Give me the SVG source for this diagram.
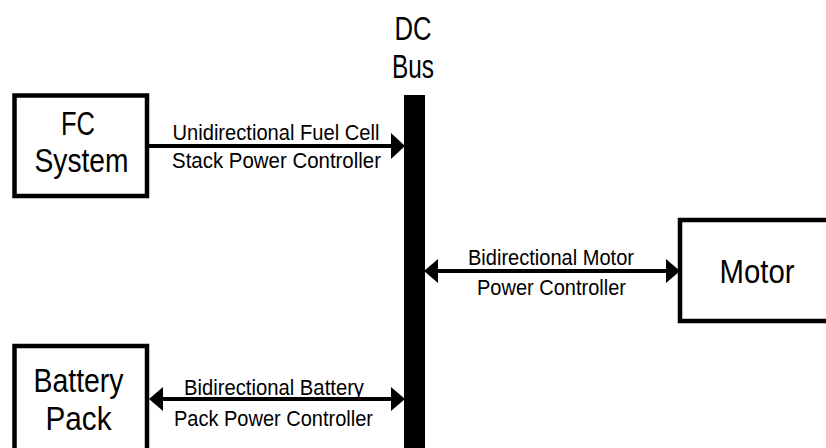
<svg xmlns="http://www.w3.org/2000/svg" width="826" height="448" viewBox="0 0 826 448">
<style>
.box{fill:#fff;stroke:#000;stroke-width:4.5}
.big{font-family:"Liberation Sans",Arial,sans-serif;font-size:34px;text-anchor:middle;fill:#000}
.lbl{font-family:"Liberation Sans",Arial,sans-serif;font-size:22px;text-anchor:middle;fill:#000}
.ln{stroke:#000;stroke-width:4.2;fill:none}
.hd{fill:#000}
</style>
<rect width="826" height="448" fill="#fff"/>
<g id="connectors">
<line class="ln" x1="149" y1="146" x2="393" y2="146"/>
<polygon class="hd" points="405,146 391,133 391,159"/>
<line class="ln" x1="436" y1="271" x2="668" y2="271"/>
<polygon class="hd" points="424,271 438,259 438,283"/>
<polygon class="hd" points="680,271 666,259 666,283"/>
<line class="ln" x1="162" y1="399" x2="392" y2="399"/>
<polygon class="hd" points="149,399 163,387 163,411"/>
<polygon class="hd" points="405,399 391,387 391,411"/>
<text class="lbl" x="276" y="140" textLength="207" lengthAdjust="spacingAndGlyphs">Unidirectional Fuel Cell</text>
<text class="lbl" x="276.5" y="168" textLength="209" lengthAdjust="spacingAndGlyphs">Stack Power Controller</text>
<text class="lbl" x="551" y="265" textLength="166" lengthAdjust="spacingAndGlyphs">Bidirectional Motor</text>
<text class="lbl" x="551.5" y="295" textLength="149" lengthAdjust="spacingAndGlyphs">Power Controller</text>
<text class="lbl" x="274" y="395" textLength="180" lengthAdjust="spacingAndGlyphs">Bidirectional Battery</text>
<text class="lbl" x="273.5" y="426" textLength="199" lengthAdjust="spacingAndGlyphs">Pack Power Controller</text>
</g>
<g id="dcbus">
<rect x="404" y="95" width="21" height="360" fill="#000"/>
<text class="big" x="413" y="40" textLength="37" lengthAdjust="spacingAndGlyphs">DC</text>
<text class="big" x="413" y="78" textLength="42" lengthAdjust="spacingAndGlyphs">Bus</text>
</g>
<g id="fc">
<rect class="box" x="14.5" y="95.5" width="132.5" height="100.5"/>
<text class="big" x="78" y="135" textLength="34" lengthAdjust="spacingAndGlyphs">FC</text>
<text class="big" x="81.5" y="172" textLength="94" lengthAdjust="spacingAndGlyphs">System</text>
</g>
<g id="motor">
<rect class="box" x="680" y="220" width="200" height="101"/>
<text class="big" x="757" y="283" textLength="75" lengthAdjust="spacingAndGlyphs">Motor</text>
</g>
<g id="battery">
<rect class="box" x="14.5" y="346" width="132.5" height="120"/>
<text class="big" x="78.5" y="392" textLength="90" lengthAdjust="spacingAndGlyphs">Battery</text>
<text class="big" x="78.5" y="430" textLength="66" lengthAdjust="spacingAndGlyphs">Pack</text>
</g>
</svg>
